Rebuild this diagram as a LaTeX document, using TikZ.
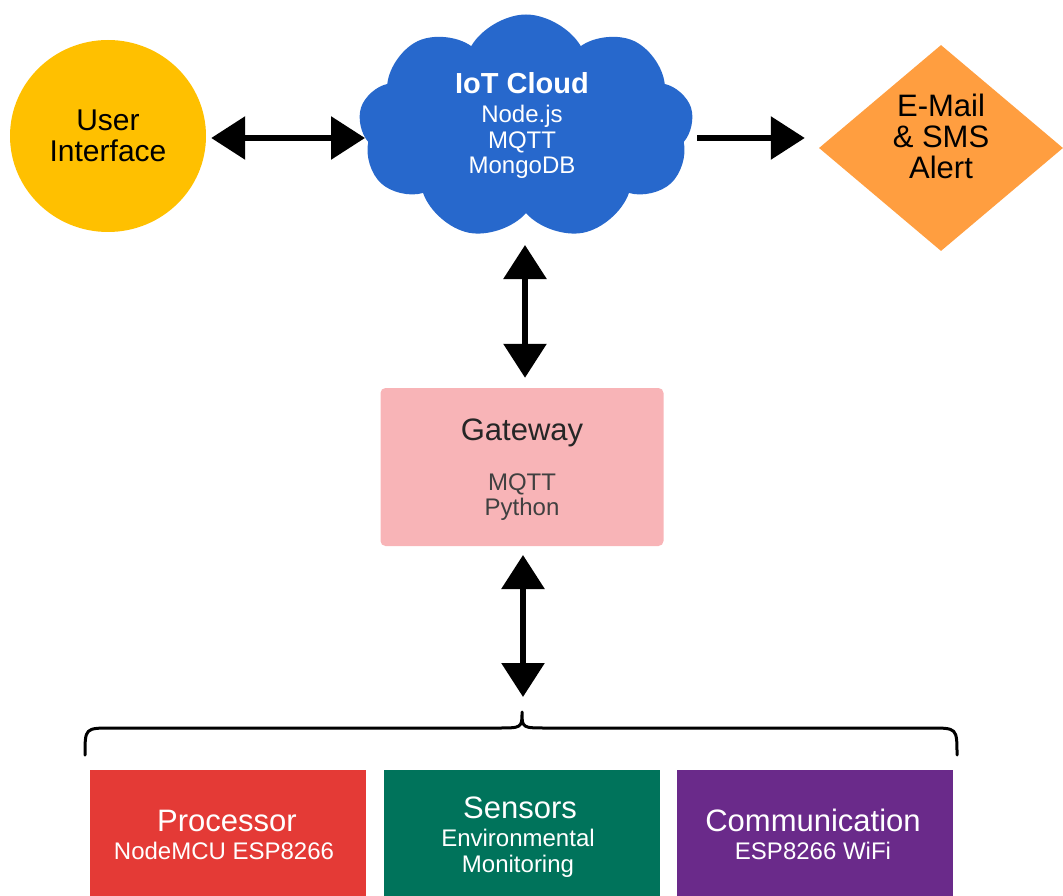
\documentclass[tikz,border=0pt]{standalone}
\usepackage{fontspec}
\setmainfont{Liberation Sans}
\usetikzlibrary{shapes.geometric,shapes.symbols,arrows.meta}
\definecolor{uiyellow}{HTML}{FFC000}
\definecolor{cloudblue}{HTML}{2768CC}
\definecolor{alertorange}{HTML}{FF9E40}
\definecolor{gwpink}{HTML}{F8B4B7}
\definecolor{procred}{HTML}{E43A36}
\definecolor{sensgreen}{HTML}{00735B}
\definecolor{compurple}{HTML}{6A2A8A}
\tikzset{
  bigarrow/.style={line width=6pt, -{Triangle[length=34pt 0,width=42pt 0]}},
  dblarrow/.style={line width=6pt, {Triangle[length=34pt 0,width=42pt 0]}-{Triangle[length=34pt 0,width=42pt 0]}},
  colbox/.style={rectangle, minimum width=276pt, minimum height=126pt, inner sep=0pt},
  bigtxt/.style={font=\fontsize{31}{31}\selectfont, align=center, inner sep=0pt},
  titletxt/.style={font=\fontsize{31}{31}\selectfont, inner sep=0pt, text depth=0pt},
  smalltxt/.style={font=\fontsize{24}{25.5}\selectfont, align=center, inner sep=0pt}
}
\begin{document}
\begin{tikzpicture}[x=1pt,y=-1pt]
\useasboundingbox (0,0) rectangle (1063,896);
\node[ellipse, fill=uiyellow, minimum width=196pt, minimum height=192pt, inner sep=0pt] (ui) at (108,136) {};
\node[bigtxt, font=\fontsize{30}{31}\selectfont] (uit) at (108,136) {User\\Interface};
\node[cloud, cloud puffs=9, cloud puff arc=120, aspect=1.5, fill=cloudblue, minimum width=335pt, minimum height=225pt, inner sep=0pt] (cloud) at (526,127) {};
\node[titletxt, text=white, font=\bfseries\fontsize{29}{31}\selectfont, anchor=base] (cloudt) at (522,94) {IoT Cloud};
\node[smalltxt, text=white, anchor=north] (clouds) at (522,105) {Node.js\\MQTT\\MongoDB};
\node[diamond, fill=alertorange, minimum width=244pt, minimum height=206pt, inner sep=0pt] (alert) at (941,148) {};
\node[bigtxt, font=\fontsize{31}{31}\selectfont] (alertt) at (941,136) {E-Mail\\\& SMS\\Alert};
\node[rectangle, rounded corners=5pt, fill=gwpink, minimum width=283pt, minimum height=158pt, inner sep=0pt] (gw) at (522,467) {};
\node[titletxt, text=black!85] (gwt) at (522,430) {Gateway};
\node[smalltxt, text=black!75] (gws) at (522,497) {MQTT\\Python};
\node[colbox, fill=procred] (proc) at (228,833) {};
\node[colbox, fill=sensgreen] (sens) at (522,833) {};
\node[colbox, fill=compurple] (comm) at (815,833) {};
\node[titletxt, text=white, anchor=base] (proct) at (227,831) {Processor};
\node[smalltxt, text=white, anchor=north] (procs) at (224,842) {NodeMCU ESP8266};
\node[titletxt, text=white, anchor=base] (senst) at (520,818) {Sensors};
\node[smalltxt, text=white, anchor=north] (senss) at (518,829) {Environmental\\Monitoring};
\node[titletxt, text=white, anchor=base] (commt) at (813,831) {Communication};
\node[smalltxt, text=white, anchor=north] (comms) at (813,842) {ESP8266 WiFi};
\coordinate (btip) at (522,712);
\draw[line width=3pt, line cap=round, line join=round]
  (85,755) .. controls (85,728) .. (112,728) -- (497,728)
  .. controls (522,728) .. (btip)
  .. controls (522,728) .. (547,728) -- (930,728)
  .. controls (957,728) .. (957,755);
\coordinate (cw) at (365,138);
\coordinate (ce) at (697,138);
\coordinate (cs) at (525,245);
\coordinate (gsw) at (523,555);
\draw[dblarrow, shorten <=5pt] (cw -| ui.east) -- (cw);
\draw[bigarrow, shorten >=14pt] (ce) -- (ce -| alert.west);
\draw[dblarrow, shorten >=10pt] (cs) -- (cs |- gw.north);
\draw[dblarrow, shorten >=15pt] (gsw) -- (gsw |- btip);
\end{tikzpicture}
\end{document}
